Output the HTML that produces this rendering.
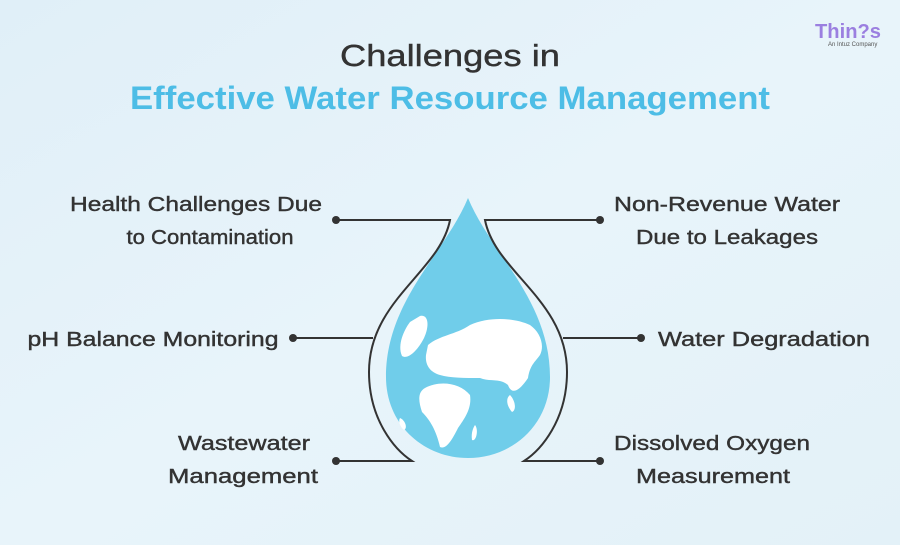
<!DOCTYPE html>
<html><head><meta charset="utf-8"><style>
html,body{margin:0;padding:0;width:900px;height:545px;overflow:hidden;background:#e5f2f9;}
svg{display:block}
text{font-family:"Liberation Sans",sans-serif;}
</style></head><body>
<svg width="900" height="545" viewBox="0 0 900 545">
<defs><linearGradient id="bg" x1="0" y1="0" x2="1" y2="1">
<stop offset="0" stop-color="#e0eff8"/><stop offset="0.5" stop-color="#e8f4fa"/><stop offset="1" stop-color="#e3f1f8"/></linearGradient></defs>
<rect width="900" height="545" fill="url(#bg)"/>
<!-- logo -->
<text x="815" y="38" font-size="20" font-weight="bold" fill="#9b7fe0" textLength="66" lengthAdjust="spacingAndGlyphs">Thin?s</text>
<text x="828" y="46" font-size="6" fill="#555">An Intuz Company</text>
<!-- title -->
<text x="450" y="66" font-size="31" fill="#333" stroke="#333" stroke-width="0.4" text-anchor="middle" textLength="220" lengthAdjust="spacingAndGlyphs">Challenges in</text>
<text x="450" y="109" font-size="32" font-weight="bold" fill="#4dbde6" text-anchor="middle" textLength="640" lengthAdjust="spacingAndGlyphs">Effective Water Resource Management</text>
<!-- drop -->
<path d="M468,198 C490,252 550,300 550,377 C550,425 512,458 468,458 C424,458 386,425 386,377 C386,300 446,252 468,198 Z" fill="#70cdea"/>
<!-- continents approx -->
<g fill="#fff">
<path d="M420,316 C428,314 430,325 424,338 C418,350 408,360 402,356 C397,345 404,330 410,322Z"/>
<path d="M428,345 C440,335 455,335 470,325 C490,316 515,318 530,325 C540,332 545,345 540,355 C535,362 530,365 528,378 C520,390 512,396 508,385 C500,378 490,382 480,378 C465,378 450,378 440,375 C430,372 425,365 426,355Z"/>
<path d="M425,388 C440,380 460,383 470,395 C472,408 465,418 458,428 C452,440 446,450 440,447 C436,430 430,420 422,412 C418,400 418,392 425,388Z"/>
<path d="M510,395 C515,400 517,410 512,412 C506,405 506,398 510,395Z"/>
<path d="M400,418 C405,420 408,428 404,430 C400,427 398,421 400,418Z"/>
<path d="M475,425 C479,430 476,442 472,440 C471,433 473,428 475,425Z"/>
</g>
<!-- outline -->
<g fill="none" stroke="#333" stroke-width="2">
<path d="M336,220 H450 C440,272 369,300 369,372 C369,420 395,450 412,461 H336"/>
<path d="M600,220 H485 C495,272 567,300 567,372 C567,420 541,450 524,461 H600"/>
<path d="M293,338 H373"/>
<path d="M563,338 H641"/>
</g>
<g fill="#333">
<circle cx="336" cy="220" r="4"/><circle cx="600" cy="220" r="4"/>
<circle cx="293" cy="338" r="4"/><circle cx="641" cy="338" r="4"/>
<circle cx="336" cy="461" r="4"/><circle cx="600" cy="461" r="4"/>
</g>
<g font-size="20" fill="#333" stroke="#333" stroke-width="0.4" text-anchor="middle">
<text x="196" y="211" textLength="252" lengthAdjust="spacingAndGlyphs">Health Challenges Due</text>
<text x="210" y="244" textLength="167" lengthAdjust="spacingAndGlyphs">to Contamination</text>
<text x="727" y="211" textLength="226" lengthAdjust="spacingAndGlyphs">Non-Revenue Water</text>
<text x="727" y="244" textLength="182" lengthAdjust="spacingAndGlyphs">Due to Leakages</text>
<text x="153" y="346" textLength="251" lengthAdjust="spacingAndGlyphs">pH Balance Monitoring</text>
<text x="764" y="346" textLength="212" lengthAdjust="spacingAndGlyphs">Water Degradation</text>
<text x="244" y="450" textLength="132" lengthAdjust="spacingAndGlyphs">Wastewater</text>
<text x="243" y="483" textLength="150" lengthAdjust="spacingAndGlyphs">Management</text>
<text x="712" y="450" textLength="196" lengthAdjust="spacingAndGlyphs">Dissolved Oxygen</text>
<text x="713" y="483" textLength="154" lengthAdjust="spacingAndGlyphs">Measurement</text>
</g>
</svg>
</body></html>
